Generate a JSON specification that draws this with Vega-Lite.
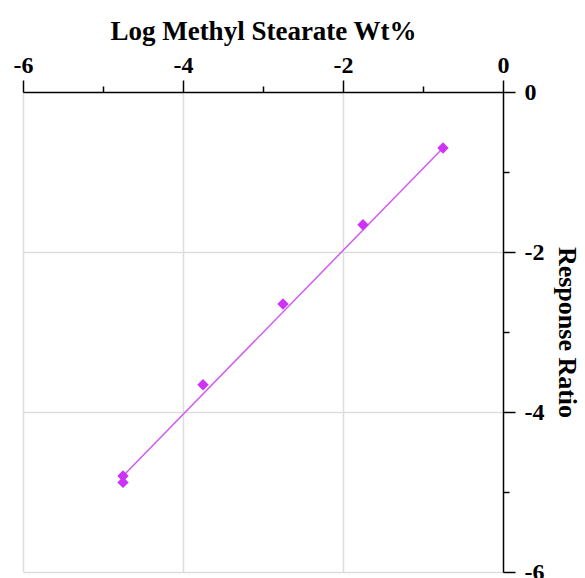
{
  "$schema": "https://vega.github.io/schema/vega-lite/v6.json",
  "autosize": "none",
  "padding": {"left": 23, "top": 92, "right": 82, "bottom": 6},
  "width": 480,
  "height": 480,
  "config": {
    "view": {"stroke": null},
    "font": "Liberation Serif"
  },
  "datasets": {
    "pts": [
      {"logwt": -0.75, "ratio": -0.70},
      {"logwt": -1.75, "ratio": -1.66},
      {"logwt": -2.75, "ratio": -2.65},
      {"logwt": -3.75, "ratio": -3.66},
      {"logwt": -4.75, "ratio": -4.80},
      {"logwt": -4.75, "ratio": -4.88}
    ],
    "fit": [
      {"logwt": -4.75, "ratio": -4.80},
      {"logwt": -0.75, "ratio": -0.70}
    ]
  },
  "layer": [
    {
      "data": {"name": "fit"},
      "mark": {"type": "line", "color": "#d05cf0", "strokeWidth": 1.5},
      "encoding": {
        "x": {"field": "logwt", "type": "quantitative"},
        "y": {"field": "ratio", "type": "quantitative"}
      }
    },
    {
      "data": {"name": "pts"},
      "mark": {"type": "point", "shape": "diamond", "filled": true, "color": "#cc33f5", "size": 130, "opacity": 1},
      "encoding": {
        "x": {
          "field": "logwt", "type": "quantitative",
          "scale": {"domain": [-6, 0], "nice": false, "zero": false},
          "axis": {
            "orient": "top",
            "title": "Log Methyl Stearate Wt%",
            "values": [-6, -5, -4, -3, -2, -1, 0],
            "labelExpr": "datum.value % 2 == 0 ? toString(datum.value) : ''",
            "labelFont": "Liberation Serif", "labelFontSize": 24, "labelFontWeight": "bold", "labelColor": "#000",
            "labelPadding": 3,
            "titleFont": "Liberation Serif", "titleFontSize": 27, "titleFontWeight": "bold", "titleColor": "#000",
            "titlePadding": 8,
            "domainColor": "#000", "domainWidth": 1.5,
            "tickColor": "#000", "tickWidth": 1.5,
            "tickSize": {"condition": {"test": "datum.value % 2 == 0", "value": 12}, "value": 6},
            "grid": true, "gridColor": "#dddddd", "gridWidth": 1.5,
            "gridOpacity": {"condition": {"test": "datum.value % 2 == 0 && datum.value != 0", "value": 1}, "value": 0},
            "labelFlush": false, "labelOverlap": false
          }
        },
        "y": {
          "field": "ratio", "type": "quantitative",
          "scale": {"domain": [-6, 0], "nice": false, "zero": false},
          "axis": {
            "orient": "right",
            "title": "Response Ratio",
            "titleAngle": 90,
            "values": [-6, -5, -4, -3, -2, -1, 0],
            "labelExpr": "datum.value % 2 == 0 ? toString(datum.value) : ''",
            "labelFont": "Liberation Serif", "labelFontSize": 24, "labelFontWeight": "bold", "labelColor": "#000",
            "labelPadding": 9,
            "titleFont": "Liberation Serif", "titleFontSize": 26, "titleFontWeight": "bold", "titleColor": "#000",
            "titlePadding": 10,
            "domainColor": "#000", "domainWidth": 1.5,
            "tickColor": "#000", "tickWidth": 1.5,
            "tickSize": {"condition": {"test": "datum.value % 2 == 0", "value": 12}, "value": 6},
            "grid": true, "gridColor": "#dddddd", "gridWidth": 1.5,
            "gridOpacity": {"condition": {"test": "datum.value % 2 == 0 && datum.value != 0", "value": 1}, "value": 0},
            "labelFlush": false, "labelOverlap": false
          }
        }
      }
    }
  ]
}
